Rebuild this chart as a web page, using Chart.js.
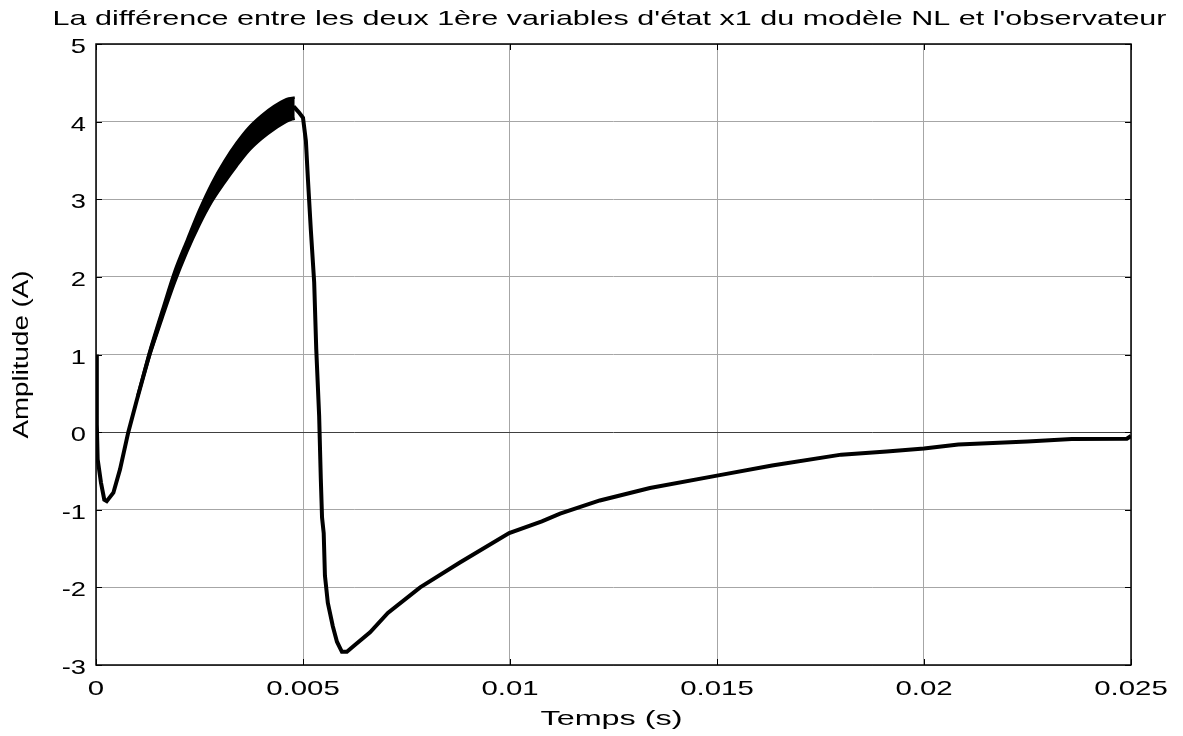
<!DOCTYPE html>
<html>
<head>
<meta charset="utf-8">
<script src="https://cdn.jsdelivr.net/npm/chart.js@4.4.1/dist/chart.umd.min.js"></script>
<style>
  html, body { margin: 0; padding: 0; background: #ffffff; }
  #c { display: block; }
</style>
</head>
<body>
<canvas id="c" width="1183" height="736"></canvas>
<script>
// ---- data ----
const titleText = "La différence entre les deux 1ère variables d'état x1 du modèle NL et l'observateur";
const xAxisTitle = "Temps (s)";
const yAxisTitle = "Amplitude (A)";

const xTickValues = [0, 0.005, 0.01, 0.015, 0.02, 0.025];
const xTickLabels = ["0", "0.005", "0.01", "0.015", "0.02", "0.025"];
const yTickValues = [-3, -2, -1, 0, 1, 2, 3, 4, 5];
const yTickLabels = ["-3", "-2", "-1", "0", "1", "2", "3", "4", "5"];

// main trace (time in s, amplitude in A)
const timeValues = [0, 0.00002, 0.00004, 0.00012, 0.0002, 0.00026, 0.00042, 0.00058, 0.00078, 0.00098,
  0.0013, 0.0016, 0.0019, 0.0022, 0.0025, 0.0028, 0.0031, 0.0034, 0.0037, 0.004,
  0.0043, 0.0046, 0.0048, 0.0049, 0.0050, 0.00507, 0.00512, 0.00519, 0.00527, 0.00532,
  0.00539, 0.00543, 0.00546, 0.0055, 0.00553, 0.0056, 0.00572, 0.00582, 0.00594, 0.00606,
  0.00626, 0.00662, 0.00705, 0.00783, 0.00879, 0.00998, 0.01077, 0.01121, 0.01217, 0.01338,
  0.015, 0.01633, 0.018, 0.0191, 0.02, 0.02083, 0.0225, 0.02357, 0.0249, 0.025];
const amplitudeValues = [1.0, 0.1, -0.35, -0.65, -0.87, -0.89, -0.78, -0.48, 0.0, 0.4,
  1.02, 1.52, 2.0, 2.4, 2.77, 3.09, 3.35, 3.58, 3.78, 3.93,
  4.05, 4.14, 4.18, 4.12, 4.05, 3.75, 3.25, 2.6, 1.93, 1.07,
  0.21, -0.6, -1.1, -1.3, -1.85, -2.2, -2.5, -2.7, -2.83, -2.83,
  -2.74, -2.58, -2.33, -2.0, -1.68, -1.3, -1.15, -1.05, -0.88, -0.72,
  -0.56, -0.43, -0.29, -0.25, -0.21, -0.16, -0.12, -0.09, -0.085, -0.05];

// oscillation band envelope on the rising part
const bandTime  = [0.0010, 0.0013, 0.0016, 0.0019, 0.0022, 0.0025, 0.0028, 0.0031, 0.0034, 0.0037, 0.0040, 0.0043, 0.0046, 0.0048];
const bandUpper = [0.47, 1.06, 1.58, 2.08, 2.48, 2.87, 3.21, 3.49, 3.73, 3.93, 4.08, 4.20, 4.29, 4.31];
const bandLower = [0.43, 0.98, 1.46, 1.92, 2.32, 2.67, 2.97, 3.21, 3.43, 3.63, 3.78, 3.90, 4.00, 4.04];

// ---- build datasets ----
const mainPts  = timeValues.map((t, i) => ({ x: t, y: amplitudeValues[i] }));
const upperPts = bandTime.map((t, i) => ({ x: t, y: bandUpper[i] }));
const lowerPts = bandTime.map((t, i) => ({ x: t, y: bandLower[i] }));

const FONT = "'Liberation Sans', Arial, sans-serif";

function drawText(ctx, str, x, y, size, align, opts) {
  opts = opts || {};
  ctx.save();
  ctx.font = size + "px " + FONT;
  ctx.fillStyle = "#000";
  ctx.textBaseline = "alphabetic";
  ctx.textAlign = align;
  ctx.translate(x, y);
  if (opts.rotate) ctx.rotate(opts.rotate);
  let sx = opts.sx || 1;
  if (opts.width) sx = opts.width / ctx.measureText(str).width;
  ctx.scale(sx, 1);
  ctx.fillText(str, 0, 0);
  ctx.restore();
}

const decor = {
  id: "decor",
  afterDraw(chart) {
    const ctx = chart.ctx;
    const a = chart.chartArea;
    const xs = chart.scales.x, ys = chart.scales.y;
    // axes box
    ctx.save();
    ctx.strokeStyle = "#000";
    ctx.lineWidth = 1.5;
    ctx.strokeRect(a.left, a.top, a.right - a.left, a.bottom - a.top);
    // inner tick marks
    ctx.lineWidth = 1;
    xTickValues.forEach(v => {
      const px = Math.round(xs.getPixelForValue(v)) + 0.5;
      ctx.beginPath();
      ctx.moveTo(px, a.bottom); ctx.lineTo(px, a.bottom - 6);
      ctx.moveTo(px, a.top); ctx.lineTo(px, a.top + 6);
      ctx.stroke();
    });
    yTickValues.forEach(v => {
      const py = Math.round(ys.getPixelForValue(v)) + 0.5;
      ctx.beginPath();
      ctx.moveTo(a.left, py); ctx.lineTo(a.left + 6, py);
      ctx.moveTo(a.right, py); ctx.lineTo(a.right - 6, py);
      ctx.stroke();
    });
    ctx.restore();

    // tick labels
    xTickValues.forEach((v, i) => {
      drawText(ctx, xTickLabels[i], xs.getPixelForValue(v), a.bottom + 30, 21, "center", { sx: 1.4 });
    });
    yTickValues.forEach((v, i) => {
      drawText(ctx, yTickLabels[i], a.left - 10, ys.getPixelForValue(v) + 9, 21, "right", { sx: 1.3 });
    });

    // titles
    const cx = (a.left + a.right) / 2;
    drawText(ctx, titleText, cx - 4, 25, 21, "center", { width: 1114 });
    drawText(ctx, xAxisTitle, cx - 2, 725, 21, "center", { width: 142 });
    drawText(ctx, yAxisTitle, 28, (a.top + a.bottom) / 2, 22, "center", { width: 168, rotate: -Math.PI / 2 });
  }
};

new Chart(document.getElementById("c"), {
  type: "line",
  data: {
    datasets: [
      { data: upperPts, borderColor: "#000", borderWidth: 2.5, pointRadius: 0, fill: false, tension: 0.3 },
      { data: lowerPts, borderColor: "#000", borderWidth: 2.5, pointRadius: 0, fill: "-1", backgroundColor: "#000", tension: 0.3 },
      { data: mainPts, borderColor: "#000", borderWidth: 4, pointRadius: 0, fill: false, tension: 0 }
    ]
  },
  options: {
    responsive: false,
    animation: false,
    devicePixelRatio: 1,
    layout: { padding: { left: 96, right: 52, top: 44, bottom: 71 } },
    plugins: { legend: { display: false }, title: { display: false }, tooltip: { enabled: false } },
    scales: {
      x: {
        type: "linear", min: 0, max: 0.025,
        afterBuildTicks: s => { s.ticks = xTickValues.map(v => ({ value: v })); },
        ticks: { display: false },
        grid: { color: "#a6a6a6", lineWidth: 1, drawTicks: false },
        border: { display: false }
      },
      y: {
        type: "linear", min: -3, max: 5,
        afterBuildTicks: s => { s.ticks = yTickValues.map(v => ({ value: v })); },
        ticks: { display: false },
        grid: { color: ctx => (ctx.tick && ctx.tick.value === 0 ? "#404040" : "#a6a6a6"), lineWidth: 1, drawTicks: false },
        border: { display: false }
      }
    }
  },
  plugins: [decor]
});
</script>
</body>
</html>
